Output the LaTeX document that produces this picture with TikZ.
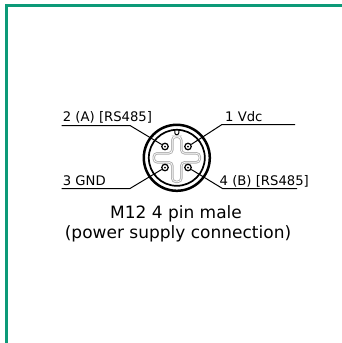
\documentclass[tikz,border=0pt]{standalone}
\usepackage{fontspec}
\setmainfont{DejaVu Sans}
\definecolor{framegreen}{RGB}{12,154,120}
\definecolor{crossgray}{RGB}{175,175,175}
\begin{document}
\begin{tikzpicture}[x=1pt,y=-1pt,
  contact/.style={circle,draw,line width=1.2pt,minimum size=6.5pt,inner sep=0pt},
  pinlabel/.style={anchor=base west,inner sep=0pt,font=\fontsize{13.2}{14}\selectfont},
  caption/.style={anchor=base,inner sep=0pt,font=\fontsize{17}{19}\selectfont},
  lead/.style={line width=1pt}]
\useasboundingbox (0,0) rectangle (342,343);
\draw[framegreen,line width=2.8pt] (6.3,343) -- (6.3,5.5) -- (342,5.5);
% connector body
\coordinate (m) at (176.8,157.8);
\draw[line width=2.5pt] (m) circle[radius=33];
\draw[line width=1.7pt] (m) circle[radius=28];
\draw[crossgray,line width=0.9pt,double=white,double distance=0.7pt,rounded corners=3.5pt,shift={(m)}]
  (0,-21) -- (4.5,-21) -- (4.5,-4.5) -- (23,-4.5) -- (23,4.5) -- (4.5,4.5) -- (4.5,24)
  -- (-4.5,24) -- (-4.5,4.5) -- (-23,4.5) -- (-23,-4.5) -- (-4.5,-4.5) -- (-4.5,-21) -- cycle;
\draw[line width=1pt,shift={(m)}] (-2,-27.6) -- (-2,-25) arc[start angle=180,end angle=0,radius=2] -- (2,-27.6);
% pins
\node[contact] (p2) at (165,146.5) {};
\node[contact] (p1) at (188,146.5) {};
\node[contact] (p3) at (165,167.5) {};
\node[contact] (p4) at (188,167.5) {};
\foreach \p in {p1,p2,p3,p4} \fill (\p) circle[radius=1];
% leads
\coordinate (a2) at (61.7,125.5);
\coordinate (b2) at (130,125.5);
\coordinate (a1) at (295,124.5);
\coordinate (b1) at (222,124.5);
\coordinate (a3) at (61.7,188.5);
\coordinate (b3) at (130,188.5);
\coordinate (a4) at (297,188.5);
\coordinate (b4) at (222.5,188.5);
\draw[lead] (a2) -- (b2) -- (p2);
\draw[lead] (a1) -- (b1) -- (p1);
\draw[lead] (a3) -- (b3) -- (p3);
\draw[lead] (a4) -- (b4) -- (p4);
% texts
\node[pinlabel] (t2) at (62.7,121.7) {2 (A) [RS485]};
\node[pinlabel] (t1) at (225,121.3) {1 Vdc};
\node[pinlabel] (t3) at (62.7,185) {3 GND};
\node[pinlabel] (t4) at (219.5,185.3) {4 (B) [RS485]};
\node[caption] (cap1) at (176,218.5) {M12 4 pin male};
\node[caption] (cap2) at (178,238) {(power supply connection)};
\end{tikzpicture}
\end{document}
